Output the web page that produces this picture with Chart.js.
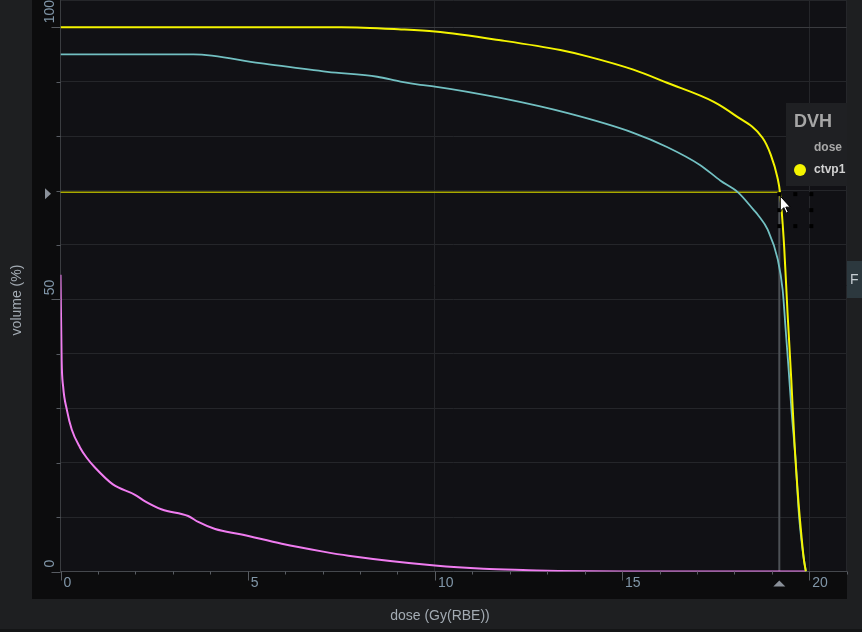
<!DOCTYPE html>
<html>
<head>
<meta charset="utf-8">
<script src="https://cdn.jsdelivr.net/npm/chart.js@4.4.1/dist/chart.umd.min.js"></script>
<style>
    html, body { margin: 0; padding: 0; background: #1e1f21; overflow: hidden; }
    #dvh { display: block; }
</style>
</head>
<body>
<canvas id="dvh" width="862" height="632"></canvas>
<script>
// ctvp1 (yellow)
const ctvp1Dose = [0, 7.5, 9.1, 10.0, 11.75, 13.35, 14.1, 15.3, 16.2, 17.45, 18.0, 18.75, 18.97, 19.15, 19.22, 19.33, 19.42, 19.52, 19.61, 19.70, 19.80, 19.86, 19.91];
const ctvp1Volume = [100, 100, 99.6, 99.2, 97.6, 95.8, 94.6, 92.2, 89.8, 86.3, 83.9, 79.7, 76.6, 72.4, 69.5, 59.6, 47.5, 35.2, 23.0, 13.8, 5.9, 2.0, 0];

// second structure (cyan)
const cyanDose = [0, 3.55, 5.33, 7.13, 8.46, 9.08, 9.61, 10.0, 11.75, 13.55, 15.3, 16.2, 17.08, 17.63, 18.09, 18.52, 18.63, 18.89, 19.16, 19.29, 19.37, 19.45, 19.53, 19.64, 19.72, 19.83, 19.91];
const cyanVolume = [95, 95, 93.4, 91.8, 90.9, 90.0, 89.4, 89.1, 87.0, 84.2, 80.6, 78.0, 74.7, 71.8, 69.7, 66.4, 65.5, 62.8, 57.3, 51.7, 44.4, 37.0, 29.2, 20.0, 10.8, 3.5, 0];

// third structure (magenta)
const magentaDose = [0, 0.03, 0.07, 0.17, 0.30, 0.52, 0.70, 0.92, 1.40, 1.99, 2.26, 2.71, 3.41, 3.68, 4.13, 4.84, 5.91, 6.98, 7.69, 10.0, 11.3, 12.5, 13.3, 15.0, 19.9];
const magentaVolume = [54.5, 38.9, 34.0, 29.7, 26.1, 22.8, 20.9, 19.1, 16.0, 14.1, 12.9, 11.4, 10.2, 9.1, 7.8, 6.8, 5.1, 3.7, 2.9, 1.1, 0.5, 0.25, 0.1, 0, 0];

const xLabelTicks = [0, 5, 10, 15, 20];
const yLabelTicks = [0, 50, 100];

// crosshair position (dose, volume)
const cursorDose = 19.2;
const cursorVolume = 69.7;

function toPoints(xs, ys) {
    return xs.map((x, i) => ({ x: x, y: ys[i] }));
}

const dvhDecor = {
    id: 'dvhDecor',
    beforeDraw(chart) {
        const c = chart.ctx;
        const a = chart.chartArea;
        c.save();
        c.fillStyle = '#1e1f21';
        c.fillRect(0, 0, chart.width, chart.height);
        c.fillStyle = '#0c0c0d';
        c.fillRect(32, 0, 815, 599);
        c.fillStyle = '#111115';
        c.fillRect(a.left, a.top, a.right - a.left, a.bottom - a.top);
        c.fillStyle = '#141516';
        c.fillRect(0, 629, chart.width, 3);
        c.restore();
    },
    beforeDatasetsDraw(chart) {
        const c = chart.ctx;
        const xs = chart.scales.x, ys = chart.scales.y;
        const cx = xs.getPixelForValue(cursorDose);
        const cy = ys.getPixelForValue(cursorVolume);
        c.save();
        // vertical crosshair
        c.strokeStyle = '#4d5156';
        c.lineWidth = 2;
        c.beginPath();
        c.moveTo(cx, cy);
        c.lineTo(cx, chart.chartArea.bottom);
        c.stroke();
        // horizontal crosshair
        c.strokeStyle = '#a9a900';
        c.lineWidth = 1.5;
        c.beginPath();
        c.moveTo(chart.chartArea.left, cy);
        c.lineTo(cx, cy);
        c.stroke();
        c.restore();
    },
    afterDraw(chart) {
        const c = chart.ctx;
        const xs = chart.scales.x, ys = chart.scales.y;
        const a = chart.chartArea;
        c.save();

        // x ticks
        c.strokeStyle = '#585c62';
        c.lineWidth = 1;
        for (let v = 0; v <= 21; v++) {
            const px = Math.round(xs.getPixelForValue(v)) + 0.5;
            const len = v % 5 === 0 ? 9 : 3;
            c.beginPath();
            c.moveTo(px, a.bottom);
            c.lineTo(px, a.bottom + len);
            c.stroke();
        }
        // y ticks
        for (let v = 0; v <= 100; v += 10) {
            const py = Math.round(ys.getPixelForValue(v)) + 0.5;
            const len = v % 50 === 0 ? 9 : 4;
            c.beginPath();
            c.moveTo(a.left, py);
            c.lineTo(a.left - len, py);
            c.stroke();
        }

        c.fillStyle = '#8096a8';
        c.font = '14px "Liberation Sans", Arial, sans-serif';
        c.textBaseline = 'middle';
        c.textAlign = 'left';
        xLabelTicks.forEach(v => {
            c.fillText(String(v), xs.getPixelForValue(v) + 3, a.bottom + 11.5);
        });
        yLabelTicks.forEach(v => {
            c.save();
            c.translate(a.left - 10, ys.getPixelForValue(v) - 4);
            c.rotate(-Math.PI / 2);
            c.fillText(String(v), 0, 0);
            c.restore();
        });

        // axis titles
        c.fillStyle = '#a3abb3';
        c.textAlign = 'center';
        c.fillText('dose (Gy(RBE))', 440, 616);
        c.save();
        c.translate(17, 300);
        c.rotate(-Math.PI / 2);
        c.fillText('volume (%)', 0, 0);
        c.restore();

        // crosshair markers on axes
        const cx = xs.getPixelForValue(cursorDose);
        const cy = ys.getPixelForValue(cursorVolume);
        c.fillStyle = '#8a9099';
        c.beginPath();
        c.moveTo(cx - 6, a.bottom + 15);
        c.lineTo(cx + 6, a.bottom + 15);
        c.lineTo(cx, a.bottom + 9);
        c.closePath();
        c.fill();
        c.beginPath();
        c.moveTo(45, cy - 4);
        c.lineTo(45, cy + 7);
        c.lineTo(51, cy + 1.5);
        c.closePath();
        c.fill();

        // selection handles
        c.fillStyle = '#000000';
        [[0, 0], [16, 0], [32, 0], [0, 16], [32, 16], [0, 32], [16, 32], [32, 32]].forEach(p => {
            c.fillRect(cx + p[0] - 2, cy + 2 + p[1] - 2, 4, 4);
        });

        // mouse pointer
        const tx = cx + 1, ty = cy + 4;
        c.beginPath();
        c.moveTo(tx, ty);
        c.lineTo(tx, ty + 15);
        c.lineTo(tx + 3.5, ty + 11.5);
        c.lineTo(tx + 6, ty + 17);
        c.lineTo(tx + 8, ty + 16);
        c.lineTo(tx + 5.5, ty + 11);
        c.lineTo(tx + 10, ty + 11);
        c.closePath();
        c.fillStyle = '#ffffff';
        c.fill();
        c.strokeStyle = '#000000';
        c.lineWidth = 1;
        c.stroke();

        // legend box
        c.fillStyle = '#1f2023';
        c.fillRect(786, 103, 61, 83);
        c.textAlign = 'left';
        c.fillStyle = '#a6a6a6';
        c.font = 'bold 18px "Liberation Sans", Arial, sans-serif';
        c.fillText('DVH', 794, 122);
        c.font = 'bold 12px "Liberation Sans", Arial, sans-serif';
        c.fillStyle = '#a8a8a8';
        c.fillText('dose', 814, 148);
        c.fillStyle = '#d2d2d2';
        c.fillText(chart.data.datasets[0].label, 814, 170);
        c.fillStyle = chart.data.datasets[0].borderColor;
        c.beginPath();
        c.arc(800, 170, 6, 0, Math.PI * 2);
        c.fill();

        // side tab on the right
        c.fillStyle = '#2c383e';
        c.fillRect(847, 261, 15, 37);
        c.fillStyle = '#c5cdd2';
        c.font = '14px "Liberation Sans", Arial, sans-serif';
        c.fillText('F', 850, 280);

        c.restore();
    }
};

document.addEventListener('DOMContentLoaded', function () {
    const ctx = document.getElementById('dvh').getContext('2d');
    new Chart(ctx, {
        type: 'line',
        data: {
            datasets: [{
                label: 'ctvp1',
                data: toPoints(ctvp1Dose, ctvp1Volume),
                borderColor: '#f4f400',
                borderWidth: 2
            }, {
                label: 'structure 2',
                data: toPoints(cyanDose, cyanVolume),
                borderColor: '#72c0c2',
                borderWidth: 1.8
            }, {
                label: 'structure 3',
                data: toPoints(magentaDose, magentaVolume),
                borderColor: '#f07cf0',
                borderWidth: 2
            }]
        },
        options: {
            responsive: false,
            animation: false,
            elements: {
                point: { radius: 0 },
                line: { cubicInterpolationMode: 'monotone' }
            },
            layout: { padding: { left: 60.5, right: 15.3, top: 0, bottom: 60.5 } },
            plugins: {
                legend: { display: false },
                tooltip: { enabled: false }
            },
            scales: {
                x: {
                    type: 'linear',
                    min: 0,
                    max: 21,
                    ticks: { display: false, stepSize: 10 },
                    grid: { drawTicks: false, color: '#25262a', lineWidth: 1 },
                    border: { color: '#45484d', width: 1 }
                },
                y: {
                    type: 'linear',
                    min: 0,
                    max: 105,
                    ticks: { display: false, stepSize: 10 },
                    grid: {
                        drawTicks: false,
                        lineWidth: 1,
                        color: c => (c.tick && c.tick.value === 100 ? '#3a3b3f' : '#25262a')
                    },
                    border: { color: '#3a3c40', width: 1 }
                }
            }
        },
        plugins: [dvhDecor]
    });
});
</script>
</body>
</html>
